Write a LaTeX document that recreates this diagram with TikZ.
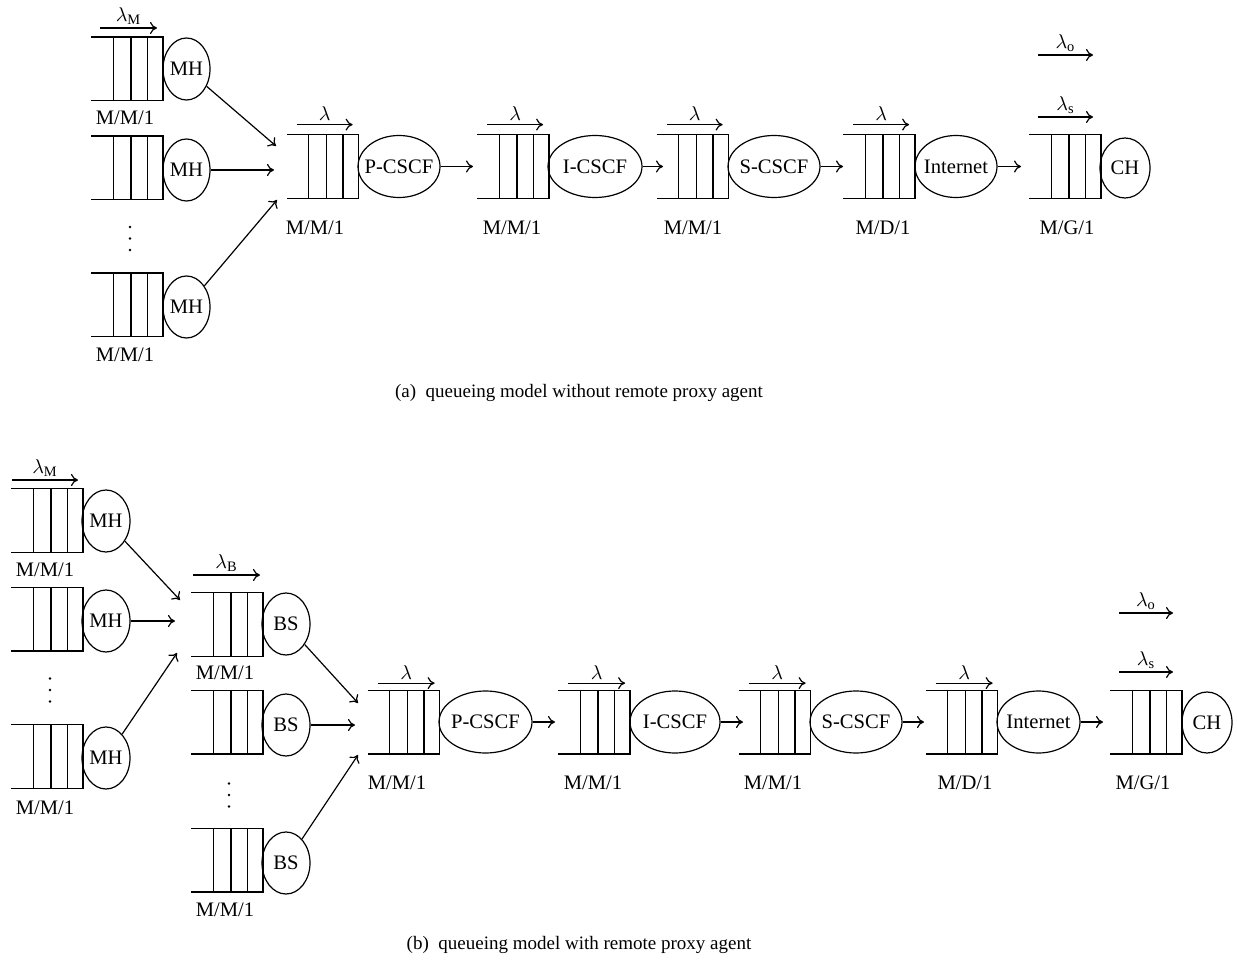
\documentclass[tikz,border=0pt]{standalone}
\usepackage{fontspec}
\setmainfont{Liberation Serif}
\usetikzlibrary{calc,shapes.geometric,arrows.meta}
\newcommand{\quebox}[3]{%
  \node[qnode] (#1) at (#2,#3) {};
  \draw[qline] (#1.north west) -- (#1.north east) -- (#1.south east) -- (#1.south west);
  \foreach \f in {0.31,0.555,0.785}{\draw[qline] ($(#1.north west)!\f!(#1.north east)$) -- ($(#1.south west)!\f!(#1.south east)$);}%
}
\newcommand{\zb}[1]{\makebox[0pt]{#1}}
\newcommand{\vdotsat}[2]{%
  \foreach \dy in {-11.5,0,11.5}{\fill (#1,#2+\dy) circle[radius=0.7pt];}%
}
\begin{document}
\begin{tikzpicture}[x=0.5pt,y=-0.5pt, font=\fontsize{10.3}{12}\selectfont,
  qnode/.style={draw=none, minimum width=35.5pt, minimum height=31.5pt, inner sep=0pt},
  qline/.style={line width=0.6pt},
  srv/.style={ellipse, draw, line width=0.6pt, inner sep=0pt, minimum height=31pt},
  arr/.style={-{To[length=3.5pt,width=6pt]}, line width=0.6pt},
  lamb/.style={above, inner sep=1.5pt},
  captext/.style={font=\fontsize{9.5}{11}\selectfont},
]
\useasboundingbox (0,0) rectangle (1237,968);

% ---------------- (a) ----------------
\quebox{qa1}{127}{69}
\node[srv, minimum width=23.5pt] (ma1) at (186.5,69) {\zb{MH}};
\quebox{qa2}{127}{168}
\node[srv, minimum width=23.5pt] (ma2) at (186.5,170) {\zb{MH}};
\quebox{qa3}{127}{305}
\node[srv, minimum width=23.5pt] (ma3) at (186.5,307) {\zb{MH}};
\vdotsat{130}{238.5}
\node (la1) at (125,118) {M/M/1};
\node (la3) at (125,355) {M/M/1};
\coordinate (lmA0) at (100,28);
\coordinate (lmA1) at (157,28);
\draw[arr] (lmA0) -- node[lamb] (lmA) {$\lambda_{\mathrm{M}}$} (lmA1);

\coordinate (ta1) at (276,146);
\coordinate (ta2) at (274,170);
\coordinate (ta3) at (277,200);
\draw[arr] (ma1) -- (ta1);
\draw[arr] (ma2) -- (ta2);
\draw[arr] (ma3) -- (ta3);

\quebox{qaP}{322.5}{166.5}
\node[srv, minimum width=41pt] (eaP) at (399,166.5) {\zb{P-CSCF}};
\coordinate (taP) at (473,166.5);
\quebox{qaI}{513}{166.5}
\node[srv, minimum width=47pt] (eaI) at (595,166.5) {\zb{I-CSCF}};
\coordinate (taI) at (663,166.5);
\quebox{qaS}{692.5}{166.5}
\node[srv, minimum width=46pt] (eaS) at (774,166.5) {\zb{S-CSCF}};
\coordinate (taS) at (843,166.5);
\quebox{qaD}{879}{166.5}
\node[srv, minimum width=41pt] (eaN) at (956,166.5) {\zb{Internet}};
\coordinate (taN) at (1021,166.5);
\quebox{qaG}{1065}{166.5}
\node[srv, minimum width=25pt, minimum height=30pt] (eaC) at (1125,168) {\zb{CH}};

\draw[arr] (eaP) -- (taP);
\draw[arr] (eaI) -- (taI);
\draw[arr] (eaS) -- (taS);
\draw[arr] (eaN) -- (taN);

\foreach \q/\n in {qaP/laP,qaI/laI,qaS/laS,qaD/laD}{
  \draw[arr] ($(\q.north west)+(10,-10)$) -- node[lamb] (\n) {$\lambda$} ($(\q.north west)+(66,-10)$);
}
\coordinate (loA0) at (1038,55);
\coordinate (loA1) at (1093,55);
\draw[arr] (loA0) -- node[lamb] (loA) {$\lambda_{\mathrm{o}}$} (loA1);
\coordinate (lsA0) at (1038,117);
\coordinate (lsA1) at (1093,117);
\draw[arr] (lsA0) -- node[lamb] (lsA) {$\lambda_{\mathrm{s}}$} (lsA1);

\node (kaP) at (315,228) {M/M/1};
\node (kaI) at (512,228) {M/M/1};
\node (kaS) at (693,228) {M/M/1};
\node (kaD) at (883,228) {M/D/1};
\node (kaG) at (1067,228) {M/G/1};

\node[captext] (capa) at (579,393) {(a)\ \ queueing model without remote proxy agent};

% ---------------- (b) ----------------
\quebox{qb1}{47}{520.5}
\node[srv, minimum width=24pt] (mb1) at (106,521) {\zb{MH}};
\quebox{qb2}{47}{619}
\node[srv, minimum width=24pt] (mb2) at (106,621) {\zb{MH}};
\quebox{qb3}{47}{756.5}
\node[srv, minimum width=24pt] (mb3) at (106,758) {\zb{MH}};
\vdotsat{50}{690}
\node (lb1) at (45,570) {M/M/1};
\node (lb3) at (45,808) {M/M/1};
\coordinate (lmB0) at (12,480);
\coordinate (lmB1) at (78,480);
\draw[arr] (lmB0) -- node[lamb] (lmB) {$\lambda_{\mathrm{M}}$} (lmB1);

\coordinate (tb1) at (180,600);
\coordinate (tb2) at (175,621);
\coordinate (tb3) at (177,653);
\draw[arr] (mb1) -- (tb1);
\draw[arr] (mb2) -- (tb2);
\draw[arr] (mb3) -- (tb3);

\quebox{qbB1}{227}{624.5}
\node[srv, minimum width=24pt] (bs1) at (286,624) {\zb{BS}};
\quebox{qbB2}{227}{722}
\node[srv, minimum width=24pt] (bs2) at (286,725) {\zb{BS}};
\quebox{qbB3}{227}{860}
\node[srv, minimum width=24pt] (bs3) at (286,863) {\zb{BS}};
\vdotsat{229}{795}
\node (lbB1) at (225,673) {M/M/1};
\node (lbB3) at (225,910) {M/M/1};
\coordinate (lB0) at (193,575);
\coordinate (lB1) at (260,575);
\draw[arr] (lB0) -- node[lamb] (lBB) {$\lambda_{\mathrm{B}}$} (lB1);

\coordinate (tc1) at (358,703);
\coordinate (tc2) at (355,725);
\coordinate (tc3) at (358,755);
\draw[arr] (bs1) -- (tc1);
\draw[arr] (bs2) -- (tc2);
\draw[arr] (bs3) -- (tc3);

\quebox{qbP}{403.5}{722}
\node[srv, minimum width=46.5pt] (ebP) at (485.5,722) {\zb{P-CSCF}};
\coordinate (tbP) at (555,722);
\quebox{qbI}{594}{722}
\node[srv, minimum width=45pt] (ebI) at (675,722) {\zb{I-CSCF}};
\coordinate (tbI) at (743,722);
\quebox{qbS}{774.5}{722}
\node[srv, minimum width=46pt] (ebS) at (856,722) {\zb{S-CSCF}};
\coordinate (tbS) at (924,722);
\quebox{qbD}{961.5}{722}
\node[srv, minimum width=41.5pt] (ebN) at (1038.5,722) {\zb{Internet}};
\coordinate (tbN) at (1103,722);
\quebox{qbG}{1146}{722}
\node[srv, minimum width=25pt, minimum height=30.5pt] (ebC) at (1207,722.5) {\zb{CH}};

\draw[arr] (ebP) -- (tbP);
\draw[arr] (ebI) -- (tbI);
\draw[arr] (ebS) -- (tbS);
\draw[arr] (ebN) -- (tbN);

\foreach \q/\n in {qbP/lbP,qbI/lbI,qbS/lbS,qbD/lbD}{
  \draw[arr] ($(\q.north west)+(10,-7)$) -- node[lamb] (\n) {$\lambda$} ($(\q.north west)+(67,-7)$);
}
\coordinate (loB0) at (1119,613);
\coordinate (loB1) at (1173,613);
\draw[arr] (loB0) -- node[lamb] (loB) {$\lambda_{\mathrm{o}}$} (loB1);
\coordinate (lsB0) at (1119,672);
\coordinate (lsB1) at (1173,672);
\draw[arr] (lsB0) -- node[lamb] (lsB) {$\lambda_{\mathrm{s}}$} (lsB1);

\node (kbP) at (397,783) {M/M/1};
\node (kbI) at (593,783) {M/M/1};
\node (kbS) at (773,783) {M/M/1};
\node (kbD) at (965,783) {M/D/1};
\node (kbG) at (1143,783) {M/G/1};

\node[captext] (capb) at (579,945) {(b)\ \ queueing model with remote proxy agent};
\end{tikzpicture}
\end{document}
